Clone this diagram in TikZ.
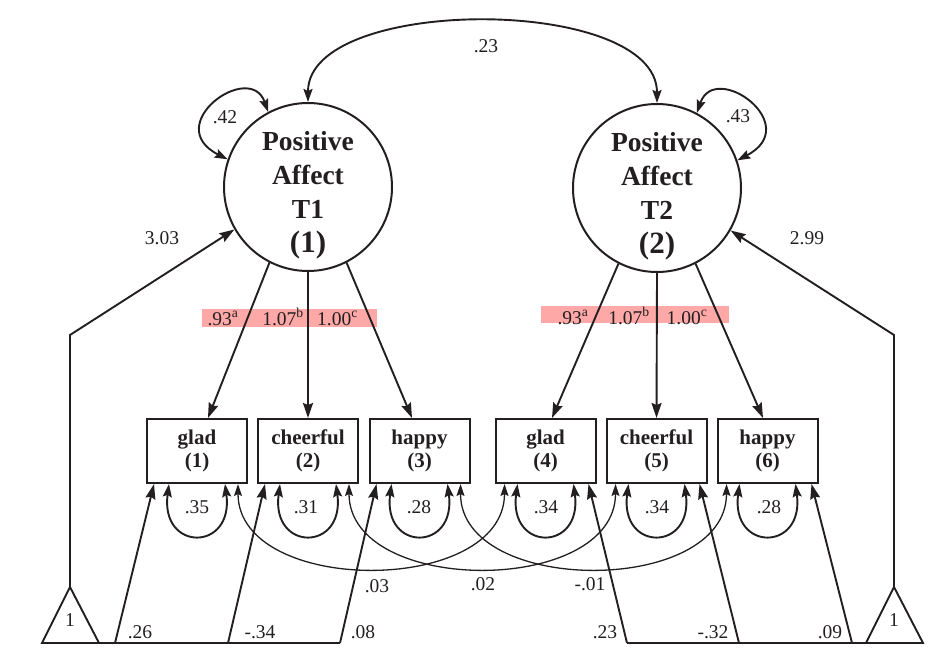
\documentclass[tikz,border=0pt]{standalone}
\usepackage{fontspec}
\setmainfont{Liberation Serif}
\usetikzlibrary{arrows.meta,calc}
\definecolor{ink}{RGB}{35,31,32}
\definecolor{hl}{RGB}{255,168,168}
\begin{document}
\begin{tikzpicture}[x=1pt,y=-1pt,
  every node/.style={text=ink},
  arr/.style={draw=ink, line width=1.9pt, -{Stealth[length=15pt,width=10pt,inset=2pt]}},
  darr/.style={draw=ink, line width=1.9pt, {Stealth[length=13pt,width=9pt,inset=2pt]}-{Stealth[length=13pt,width=9pt,inset=2pt]}},
  covarr/.style={draw=ink, line width=1.3pt, {Stealth[length=12pt,width=8pt,inset=2pt]}-{Stealth[length=12pt,width=8pt,inset=2pt]}},
  plain/.style={draw=ink, line width=1.9pt},
  obsbox/.style={draw=ink, line width=2pt, minimum width=100pt, minimum height=64pt, inner sep=0pt, align=center, font=\bfseries\fontsize{21}{23}\selectfont},
  lat/.style={circle, draw=ink, line width=2pt, minimum size=168pt, inner sep=0pt},
  lattext/.style={align=center, inner sep=0pt, font=\bfseries\fontsize{27.5}{34}\selectfont},
  lab/.style={font=\fontsize{19.5}{22}\selectfont, inner sep=0pt},
  ldg/.style={font=\fontsize{19.5}{22}\selectfont, inner sep=0pt, anchor=base}
]
\useasboundingbox (0,0) rectangle (936,658);

% highlight bars
\fill[hl] (202,309) rectangle (377,327);
\fill[hl] (541,306) rectangle (729,323);

% latent variables
\node[lat] (c1) at (308,187) {};
\node[lat] (c2) at (657,188) {};
\node[lattext] (c1t) at (308,195.5) {Positive\\Affect\\T1\\\fontsize{31}{35}\selectfont (1)};
\node[lattext] (c2t) at (657,196.5) {Positive\\Affect\\T2\\\fontsize{31}{35}\selectfont (2)};

% indicators
\node[obsbox] (b1) at (197,451) {glad\\(1)};
\node[obsbox] (b2) at (308,451) {cheerful\\(2)};
\node[obsbox] (b3) at (419.5,451) {happy\\(3)};
\node[obsbox] (b4) at (545.5,451) {glad\\(4)};
\node[obsbox] (b5) at (656.5,451) {cheerful\\(5)};
\node[obsbox] (b6) at (767.5,451) {happy\\(6)};

% loadings
\draw[arr] (c1.243) -- ($(b1.north)+(11,0)$);
\draw[arr] (c1.south) -- (b2.north);
\draw[arr] (c1.297) -- ($(b3.north)+(-7.5,0)$);
\draw[arr] (c2.243) -- ($(b4.north)+(6.5,0)$);
\draw[arr] (c2.south) -- (b5.north);
\draw[arr] (c2.297) -- ($(b6.north)+(-4.5,0)$);

% factor covariance and variances
\draw[darr] (c1.north) .. controls (308,-5) and (657,-5) .. (c2.north);
\draw[darr] (c1.118) .. controls (250,60) and (160,125) .. (c1.161);
\draw[darr] (c2.62) .. controls (715,60) and (805,125) .. (c2.19);

% residual variances
\foreach \b in {b1,b2,b3,b4,b5,b6}{
  \draw[darr] ($(\b.south)+(-28,0)$) .. controls +(-9,68) and +(9,68) .. ($(\b.south)+(28,0)$);
}

% residual covariances
\draw[covarr] ($(b1.south)+(41,0)$) .. controls +(0,112) and +(0,112) .. ($(b4.south)+(-41,0)$);
\draw[covarr] ($(b2.south)+(41,0)$) .. controls +(0,112) and +(0,112) .. ($(b5.south)+(-41,0)$);
\draw[covarr] ($(b3.south)+(41,0)$) .. controls +(0,112) and +(0,112) .. ($(b6.south)+(-41,0)$);

% mean structure
\coordinate (t1a) at (70,587);
\coordinate (t2a) at (894,587);
\coordinate (t1k) at (70,335);
\coordinate (t2k) at (894,335);
\draw[plain, line join=miter] (42,643) -- (t1a) -- (99,643) -- cycle;
\draw[plain, line join=miter] (866,643) -- (t2a) -- (923,643) -- cycle;
\node[lab] (t1) at (70,620) {1};
\node[lab] (t2) at (894,620) {1};
\draw[arr] (t1a) -- (t1k) -- (c1.210);
\draw[arr] (t2a) -- (t2k) -- (c2.330);

\coordinate (L1) at (115,643);
\coordinate (L2) at (228,643);
\coordinate (L3) at (340,643);
\coordinate (R1) at (627,643);
\coordinate (R2) at (739,643);
\coordinate (R3) at (852,643);
\draw[plain] (99,643) -- (L3);
\draw[plain] (R1) -- (866,643);
\draw[arr] (L1) -- ($(b1.south)+(-43,0)$);
\draw[arr] (L2) -- ($(b2.south)+(-43,0)$);
\draw[arr] (L3) -- ($(b3.south)+(-43,0)$);
\draw[arr] (R1) -- ($(b4.south)+(43,0)$);
\draw[arr] (R2) -- ($(b5.south)+(43,0)$);
\draw[arr] (R3) -- ($(b6.south)+(44,0)$);

% labels
\node[lab] (l23) at (486,46) {.23};
\node[lab] (l42) at (225,117) {.42};
\node[lab] (l43) at (738,116) {.43};
\node[lab] (l303) at (162,238) {3.03};
\node[lab] (l299) at (807,238) {2.99};

\node[ldg] (la1) at (223,325) {.93\textsuperscript{a}};
\node[ldg] (lb1) at (283,325) {1.07\textsuperscript{b}};
\node[ldg] (lc1) at (337.5,325) {1.00\textsuperscript{c}};
\node[ldg] (la2) at (573,324) {.93\textsuperscript{a}};
\node[ldg] (lb2) at (629,324) {1.07\textsuperscript{b}};
\node[ldg] (lc2) at (687,324) {1.00\textsuperscript{c}};

\node[lab] (r1) at (197,507) {.35};
\node[lab] (r2) at (306,507) {.31};
\node[lab] (r3) at (419,507) {.28};
\node[lab] (r4) at (546,507) {.34};
\node[lab] (r5) at (657,507) {.34};
\node[lab] (r6) at (769,507) {.28};

\node[lab] (k1) at (377,586) {.03};
\node[lab] (k2) at (483,584) {.02};
\node[lab] (k3) at (590,584) {-.01};

\node[lab] (m1) at (140,632) {.26};
\node[lab] (m2) at (260,632) {-.34};
\node[lab] (m3) at (363,632) {.08};
\node[lab] (m4) at (605,632) {.23};
\node[lab] (m5) at (713,632) {-.32};
\node[lab] (m6) at (830,632) {.09};
\end{tikzpicture}
\end{document}
